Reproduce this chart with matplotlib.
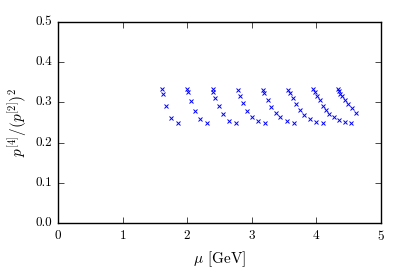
import matplotlib
matplotlib.use("Agg")
import matplotlib.pyplot as plt
import numpy as np

# mu [GeV] and ratio, one list per scan
mu_1 = [1.615, 1.63, 1.676, 1.754, 1.853]
r_1 = [0.333, 0.320, 0.291, 0.262, 0.249]
mu_2 = [1.997, 2.012, 2.054, 2.116, 2.193, 2.302]
r_2 = [0.333, 0.327, 0.303, 0.278, 0.258, 0.249]
mu_3 = [2.395, 2.404, 2.435, 2.487, 2.559, 2.642, 2.755]
r_3 = [0.333, 0.327, 0.312, 0.291, 0.271, 0.254, 0.249]
mu_4 = [2.791, 2.817, 2.868, 2.930, 3.008, 3.101, 3.204]
r_4 = [0.331, 0.317, 0.299, 0.279, 0.264, 0.254, 0.249]
mu_5 = [3.173, 3.194, 3.246, 3.297, 3.370, 3.437, 3.540, 3.653]
r_5 = [0.331, 0.323, 0.306, 0.289, 0.274, 0.263, 0.253, 0.249]
mu_6 = [3.565, 3.596, 3.638, 3.689, 3.741, 3.804, 3.901, 3.994, 4.097]
r_6 = [0.331, 0.323, 0.310, 0.296, 0.282, 0.269, 0.258, 0.252, 0.249]
mu_7 = [3.952, 3.978, 4.014, 4.056, 4.097, 4.149, 4.200, 4.272, 4.355, 4.447, 4.531]
r_7 = [0.333, 0.327, 0.317, 0.306, 0.291, 0.280, 0.271, 0.263, 0.256, 0.251, 0.249]
mu_8 = [4.34, 4.35, 4.37, 4.40, 4.44, 4.49, 4.55, 4.62]
r_8 = [0.333, 0.328, 0.321, 0.315, 0.306, 0.295, 0.285, 0.273]

plt.style.use("classic")
plt.rcParams["font.family"] = "cmr10"
plt.rcParams["mathtext.fontset"] = "cm"
plt.rcParams["axes.formatter.use_mathtext"] = True
plt.rcParams["font.size"] = 9.5

fig = plt.figure(figsize=(4.07, 2.71), dpi=100, facecolor="white")
ax = fig.add_axes([0.1425, 0.177, 0.936 - 0.1425, 0.919 - 0.177])

mu = mu_1 + mu_2 + mu_3 + mu_4 + mu_5 + mu_6 + mu_7 + mu_8
r = r_1 + r_2 + r_3 + r_4 + r_5 + r_6 + r_7 + r_8
ax.plot(mu, r, "bx", ls="none", ms=3.5, mew=0.7)

ax.set_xlim(0, 5)
ax.set_ylim(0, 0.5)
ax.set_xticks([0, 1, 2, 3, 4, 5])
ax.set_yticks([0.0, 0.1, 0.2, 0.3, 0.4, 0.5])
ax.set_yticklabels(["0.0", "0.1", "0.2", "0.3", "0.4", "0.5"])
ax.set_xlabel(r"$\mu$ [GeV]", fontsize=11)
ax.set_ylabel(r"$p^{[4]}/(p^{[2]})^2$", fontsize=11)

fig.savefig("out.png", dpi=100, facecolor="white")
